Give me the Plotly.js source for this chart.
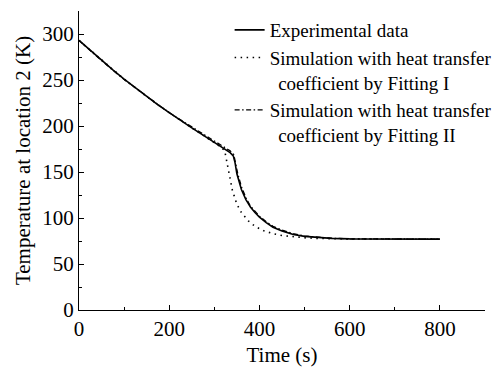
<!DOCTYPE html>
<html>
<head>
<meta charset="utf-8">
<script src="https://cdn.plot.ly/plotly-3.0.1.min.js"></script>
<style>html,body{margin:0;padding:0;background:#fff;}#chart{width:495px;height:372px;}</style>
</head>
<body>
<div id="chart"></div>
<script>
// Experimental data
var expTime = [0,25,50,75,100,125,150,175,200,225,250,275,300,320,335,342,346,350,355,360,370,380,390,400,415,430,450,475,500,530,560,600,700,800];
var expTemp = [293,282,271.5,261,251,241.5,232,223,214.5,206,198,190,182,176,171,167.5,160,148,139,131,120,112,106,101,95,90,86,82,80,78.5,77.8,77.3,77.1,77];

// Simulation, Fitting I
var fit1Time = [0,50,100,150,200,250,300,315,323,328,333,340,350,360,375,390,410,430,450,475,500,530,560,600,700,800];
var fit1Temp = [293,271.5,251,232,214.5,198,182,177,173,160,146,130,115,106,97,91,86,83,81,79.5,78.5,77.8,77.4,77.2,77.1,77];

// Simulation, Fitting II
var fit2Time = [0,50,100,150,200,250,275,300,320,335,343,347,352,360,370,380,390,400,415,430,450,475,500,530,560,600,700,800];
var fit2Temp = [293,271,250.5,232,214.5,199,191.5,184,178,173,169,160,148,134,122,113,107,102,96,91,87,83,80.5,79,78,77.4,77.1,77];

var seriesNames = [
  'Experimental data',
  'Simulation with heat transfer<br>\u00A0\u2009coefficient by Fitting I',
  'Simulation with heat transfer<br>\u00A0\u2009coefficient by Fitting II'
];

var xTitle = 'Time (s)';
var yTitle = 'Temperature at location 2 (K)';

var FONT = 'Liberation Serif, Times New Roman, serif';

var traces = [
  {x: expTime, y: expTemp, name: seriesNames[0], mode: 'lines',
   line: {color: '#000', width: 1.6, dash: 'solid'}},
  {x: fit1Time, y: fit1Temp, name: seriesNames[1], mode: 'lines',
   line: {color: '#000', width: 1.6, dash: '1.5px,4.5px'}},
  {x: fit2Time, y: fit2Temp, name: seriesNames[2], mode: 'lines',
   line: {color: '#000', width: 1.3, dash: '5px,2.5px,1.5px,2.5px'}}
];

var layout = {
  width: 495, height: 372,
  margin: {l: 79, r: 10, t: 11, b: 62, pad: 0, autoexpand: false},
  paper_bgcolor: '#fff', plot_bgcolor: '#fff',
  font: {family: FONT, size: 21, color: '#000'},
  showlegend: true,
  legend: {
    x: 0.371, y: 1.0, xanchor: 'left', yanchor: 'top',
    bgcolor: 'rgba(0,0,0,0)', borderwidth: 0,
    font: {family: FONT, size: 19, color: '#000'},
    valign: 'top', tracegroupgap: 0, itemwidth: 30
  },
  xaxis: {
    range: [0, 900], dtick: 200, tick0: 0,
    showline: true, linecolor: '#000', linewidth: 1,
    ticks: 'inside', ticklen: 5, tickwidth: 1, tickcolor: '#000',
    minor: {dtick: 100, ticks: 'inside', ticklen: 3, tickwidth: 1, tickcolor: '#000'},
    showgrid: false, zeroline: false,
    tickfont: {family: FONT, size: 21, color: '#000'},
    title: {text: xTitle, font: {family: FONT, size: 21, color: '#000'}, standoff: 7},
    mirror: false
  },
  yaxis: {
    range: [0, 325], dtick: 50, tick0: 0,
    showline: true, linecolor: '#000', linewidth: 1,
    ticks: 'inside', ticklen: 5, tickwidth: 1, tickcolor: '#000',
    minor: {dtick: 25, ticks: 'inside', ticklen: 3, tickwidth: 1, tickcolor: '#000'},
    showgrid: false, zeroline: false,
    tickfont: {family: FONT, size: 21, color: '#000'},
    title: {text: yTitle, font: {family: FONT, size: 21, color: '#000'}, standoff: 5},
    mirror: false
  }
};

Plotly.newPlot('chart', traces, layout, {staticPlot: true, displayModeBar: false});
</script>
</body>
</html>
